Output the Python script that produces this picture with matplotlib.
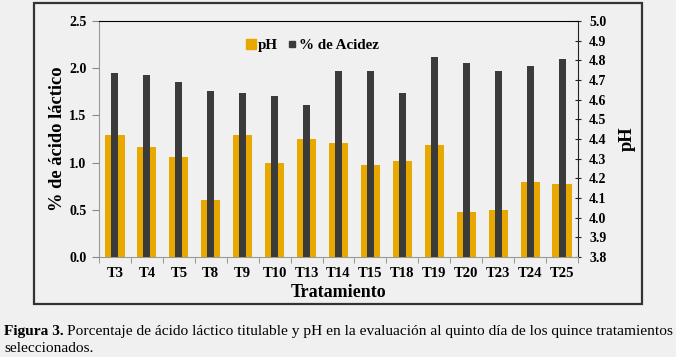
import numpy as np
import matplotlib
matplotlib.use("Agg")
import matplotlib.pyplot as plt
from matplotlib.lines import Line2D
from matplotlib.patches import Rectangle

tratamientos = ["T3", "T4", "T5", "T8", "T9", "T10", "T13", "T14", "T15",
                "T18", "T19", "T20", "T23", "T24", "T25"]
acidez = [1.95, 1.93, 1.85, 1.76, 1.74, 1.71, 1.61, 1.97, 1.97,
          1.74, 2.12, 2.05, 1.97, 2.02, 2.10]
ph = [4.42, 4.36, 4.31, 4.09, 4.42, 4.28, 4.40, 4.38, 4.27,
      4.29, 4.37, 4.03, 4.04, 4.18, 4.17]

plt.rcParams['font.family'] = ['Liberation Serif', 'DejaVu Serif']

W, H = 676, 357
BG = "#f0f0f0"
ORANGE = "#e9a800"
DARK = "#3b3b3b"

fig = plt.figure(figsize=(W / 100, H / 100), dpi=100, facecolor=BG)

# marco exterior
fig.patches.append(Rectangle((34 / W, 1 - 304 / H), (642 - 34) / W, (304 - 3) / H,
                             transform=fig.transFigure, fill=False,
                             edgecolor="#333333", lw=1.6))

ax1 = fig.add_axes([99 / W, 1 - 257 / H, 479 / W, 236 / H])
ax2 = ax1.twinx()
ax1.set_zorder(ax2.get_zorder() + 1)
ax1.patch.set_visible(False)
ax2.patch.set_visible(False)

x = np.arange(len(tratamientos))
ax2.bar(x, ph, width=0.6, color=ORANGE, zorder=2)
ax1.bar(x, acidez, width=0.22, color=DARK, zorder=3)

ax1.set_xlim(-0.5, len(x) - 0.5)
ax1.set_ylim(0, 2.5)
ax1.set_yticks(np.arange(0, 2.51, 0.5))
ax1.set_yticklabels([f"{v:.1f}" for v in np.arange(0, 2.51, 0.5)])
ax2.set_ylim(3.8, 5.0)
ax2.set_yticks(np.arange(3.8, 5.01, 0.1))
ax2.set_yticklabels([f"{v:.1f}" for v in np.arange(3.8, 5.01, 0.1)])

ax1.set_xticks(x)
ax1.set_xticklabels(tratamientos, fontweight="bold", fontsize=10.5)
ax1.tick_params(axis="x", length=0, pad=7)
ax1.set_xticks(np.arange(-0.5, len(x), 1), minor=True)
ax1.tick_params(axis="x", which="minor", length=4, color="#888888", direction="out")
ax1.tick_params(axis="y", length=5, color="#888888", labelsize=10, pad=4)
ax2.tick_params(axis="y", length=4, color="#222222", direction="inout", labelsize=10, pad=6)
for lab in ax1.get_yticklabels() + ax2.get_yticklabels():
    lab.set_fontweight("bold")

for sp in ["left", "bottom"]:
    ax1.spines[sp].set_color("#999999")
ax1.spines["top"].set_color("black")
ax1.spines["right"].set_visible(False)
for sp in ["left", "top", "bottom"]:
    ax2.spines[sp].set_visible(False)
ax2.spines["right"].set_color("#222222")

ax1.set_ylabel("% de ácido láctico", fontsize=13.3, fontweight="bold", labelpad=2)
ax1.set_xlabel("Tratamiento", fontsize=13, fontweight="bold", labelpad=3)
ax2.set_ylabel("pH", fontsize=13.3, fontweight="bold", labelpad=9)

handles = [Line2D([], [], ls="none", marker="s", ms=7.5, color=ORANGE),
           Line2D([], [], ls="none", marker="s", ms=5, color=DARK)]
ax1.legend(handles, ["pH", "% de Acidez"], loc="center", bbox_to_anchor=(0.443, 0.898),
           ncol=2, frameon=False, handletextpad=0.0, columnspacing=0.4,
           handlelength=1.0, prop={"weight": "bold", "size": 10.8})

# pie de figura
renderer = fig.canvas.get_renderer()
t = fig.text(4 / W, 1 - 331 / H, "Figura 3.", fontsize=11.1, fontweight="bold", va="center")
bb = t.get_window_extent(renderer)
fig.text(bb.x1 / W + 3 / W, 1 - 331 / H,
         "Porcentaje de ácido láctico titulable y pH en la evaluación al quinto día de los quince tratamientos",
         fontsize=11.1, va="center")
fig.text(4 / W, 1 - 349 / H, "seleccionados.", fontsize=11.1, va="center")

fig.savefig("out.png", dpi=100, facecolor=BG)
